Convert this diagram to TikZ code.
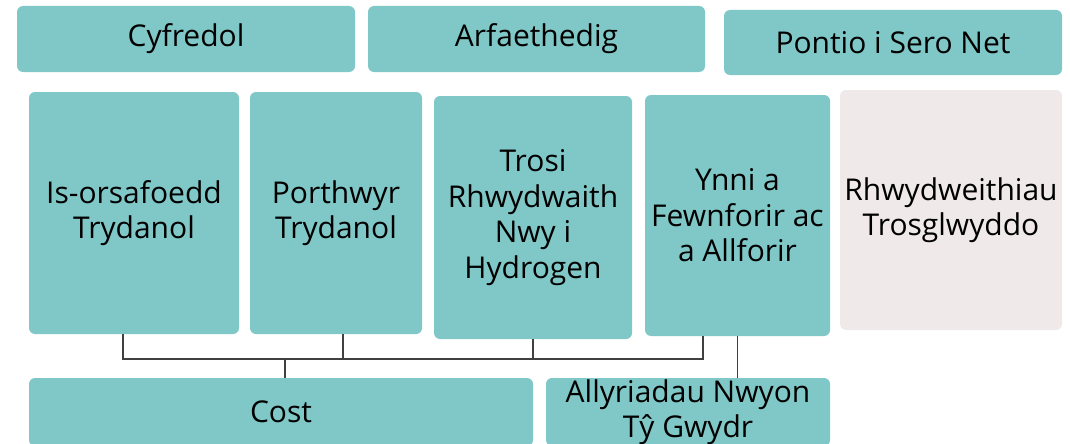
\documentclass[tikz,border=0pt]{standalone}
\usepackage{fontspec}
\setmainfont{Open Sans}
\definecolor{tealbox}{RGB}{127,200,199}
\definecolor{greybox}{RGB}{239,233,233}
\definecolor{connline}{RGB}{64,64,64}
\begin{document}
\begin{tikzpicture}[x=1pt,y=-1pt,
  box/.style={draw=none, fill=tealbox, rounded corners=6pt, inner sep=0pt,
    align=center, font=\fontsize{30}{35.5}\selectfont},
  conn/.style={draw=connline, line width=1.8pt}]
\useasboundingbox (0,0) rectangle (1070,444);
\clip (0,0) rectangle (1070,444);

% heading row
\node[box, minimum width=338pt, minimum height=66pt] (cyf) at (186,39) {Cyfredol};
\node[box, minimum width=337pt, minimum height=66pt] (arf) at (536.5,39) {Arfaethedig};
\node[box, minimum width=338pt, minimum height=65pt] (pon) at (893,42.5) {Pontio i Sero Net};

% middle row
\node[box, minimum width=210pt, minimum height=242pt] (iso) at (134,213) {Is-orsafoedd\\Trydanol};
\node[box, minimum width=172pt, minimum height=242pt] (por) at (336,213) {Porthwyr\\Trydanol};
\node[box, minimum width=198pt, minimum height=243pt] (tro) at (533,217.5) {Trosi\\Rhwydwaith\\Nwy i\\Hydrogen};
\node[box, minimum width=185pt, minimum height=241pt] (ynn) at (737.5,215.5) {Ynni a\\Fewnforir ac\\a Allforir};
\node[box, fill=greybox, minimum width=222pt, minimum height=240pt] (rhw) at (951,210) {Rhwydweithiau\\Trosglwyddo};

% bottom row
\node[box, minimum width=504pt, minimum height=68pt] (cost) at (281,412) {Cost};
\node[box, minimum width=284pt, minimum height=68pt] (ally) at (688,412) {Allyriadau Nwyon\\Tŷ Gwydr};

% joining bracket
\coordinate (busL) at (123,359);
\coordinate (busR) at (703,359);
\coordinate (tapP) at (343,359);
\coordinate (tapT) at (533,359);
\coordinate (tapC) at (285,359);
\draw[conn] (iso.south -| busL) -- (busL) -- (busR) -- (ynn.south -| busR);
\draw[conn] (por.south -| tapP) -- (tapP);
\draw[conn] (tro.south -| tapT) -- (tapT);
\draw[conn] (tapC) -- (cost.north -| tapC);
\draw[conn] (ynn.south) -- (ally.north -| ynn.south);
\end{tikzpicture}
\end{document}
